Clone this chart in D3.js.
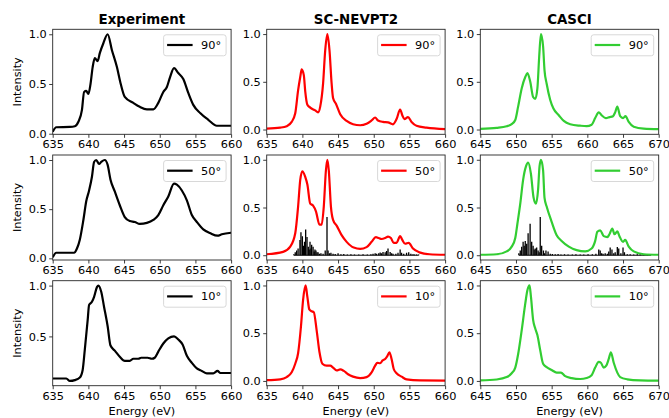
<!DOCTYPE html>
<html><head><meta charset="utf-8">
<script src="https://cdn.jsdelivr.net/npm/d3@7"></script>
<style>body{margin:0;background:#fff} text{font-family:"DejaVu Sans",sans-serif}</style>
</head><body><svg id="c" width="669" height="418"></svg>
<script>
// ---------- data ----------
const methods = ["Experiment", "SC-NEVPT2", "CASCI"];
const angles = ["90°", "50°", "10°"];
const xTicksLow = [635, 640, 645, 650, 655, 660];
const xTicksHigh = [645, 650, 655, 660, 665, 670];
const yTickValues = [0, 0.5, 1.0];

const exp90 = [[635,0.02],[635.5,0.065],[637.4,0.068],[638.1,0.075],[638.6,0.12],[639.1,0.24],[639.4,0.42],[639.7,0.43],[640.0,0.40],[640.3,0.5],[640.6,0.67],[640.9,0.76],[641.3,0.73],[641.6,0.81],[642.1,0.91],[642.7,1.0],[643.3,0.84],[644.0,0.67],[644.5,0.51],[645.1,0.37],[646.3,0.31],[647.2,0.27],[648.2,0.245],[649.1,0.245],[649.8,0.31],[650.5,0.42],[651.0,0.47],[651.45,0.57],[652.0,0.66],[652.6,0.61],[653.3,0.55],[654.0,0.41],[654.7,0.29],[655.7,0.205],[656.8,0.14],[658.0,0.08],[660,0.08]];
const exp50 = [[635,0.01],[635.5,0.057],[638.0,0.057],[638.4,0.10],[638.8,0.19],[639.3,0.39],[639.7,0.58],[640.1,0.69],[640.5,0.83],[640.8,0.98],[641.1,1.0],[641.5,0.96],[641.8,0.98],[642.3,1.0],[642.7,0.95],[643.1,0.80],[643.7,0.68],[644.4,0.54],[645.1,0.42],[645.8,0.38],[646.5,0.37],[647.2,0.35],[648.2,0.36],[649.1,0.39],[649.8,0.44],[650.5,0.54],[651.2,0.63],[652.0,0.76],[652.4,0.75],[653.1,0.69],[653.8,0.59],[654.5,0.44],[655.2,0.37],[656.1,0.295],[657.1,0.255],[658.1,0.23],[658.7,0.245],[660,0.26]];
const exp10 = [[635,0.086],[636.9,0.086],[637.4,0.062],[638.1,0.07],[638.8,0.095],[639.2,0.17],[639.5,0.37],[639.9,0.66],[640.1,0.81],[640.5,0.84],[640.8,0.89],[641.2,0.985],[641.4,1.0],[641.8,0.94],[642.2,0.79],[642.7,0.60],[643.1,0.41],[643.7,0.36],[644.4,0.30],[645.1,0.26],[645.8,0.26],[646.3,0.28],[647.0,0.28],[647.4,0.29],[648.3,0.29],[648.9,0.28],[649.3,0.29],[649.8,0.35],[650.5,0.43],[651.2,0.48],[652.0,0.50],[652.6,0.47],[653.2,0.42],[653.8,0.31],[654.5,0.24],[655.2,0.185],[655.9,0.16],[656.6,0.137],[657.5,0.137],[658.1,0.16],[658.5,0.14],[660,0.14]];

const nevpt90 = [[635,0.01],[636.9,0.02],[637.8,0.035],[638.5,0.08],[639.0,0.17],[639.4,0.41],[639.7,0.55],[639.9,0.63],[640.2,0.57],[640.4,0.40],[640.7,0.26],[641.1,0.23],[641.8,0.20],[642.2,0.18],[642.5,0.24],[642.9,0.48],[643.2,0.83],[643.5,1.0],[643.8,0.83],[644.1,0.48],[644.3,0.33],[644.7,0.27],[645.3,0.16],[646.2,0.09],[647.1,0.056],[648.1,0.045],[649.0,0.06],[649.7,0.095],[650.2,0.126],[650.6,0.095],[651.3,0.08],[652.0,0.075],[652.7,0.055],[653.2,0.11],[653.7,0.21],[654.0,0.15],[654.3,0.11],[654.8,0.13],[655.3,0.08],[656.0,0.04],[657.4,0.02],[660,0.005]];
const nevpt50 = [[635,0.01],[637.3,0.035],[638.3,0.09],[639.0,0.23],[639.4,0.51],[639.7,0.79],[640.0,0.88],[640.4,0.82],[640.7,0.74],[641.1,0.54],[641.5,0.52],[641.9,0.46],[642.4,0.32],[642.7,0.32],[643.0,0.51],[643.3,0.89],[643.5,1.0],[643.7,0.89],[644.0,0.51],[644.3,0.37],[644.8,0.31],[645.5,0.21],[646.2,0.14],[647.2,0.08],[648.1,0.067],[649.0,0.085],[649.7,0.14],[650.3,0.19],[650.7,0.18],[651.1,0.17],[651.6,0.18],[652.0,0.195],[652.4,0.18],[652.8,0.13],[653.2,0.13],[653.7,0.20],[654.0,0.16],[654.4,0.12],[654.9,0.13],[655.5,0.07],[656.4,0.03],[657.8,0.01],[660,0.005]];
const nevpt10 = [[635,0.008],[636.9,0.017],[637.8,0.04],[638.5,0.09],[639.0,0.18],[639.4,0.29],[639.8,0.57],[640.1,0.85],[640.45,1.0],[640.7,0.88],[640.97,0.75],[641.3,0.73],[641.6,0.72],[642.0,0.53],[642.4,0.30],[642.8,0.18],[643.4,0.16],[643.9,0.16],[644.3,0.14],[644.8,0.11],[645.3,0.12],[645.8,0.105],[646.4,0.07],[647.1,0.045],[648.1,0.03],[649.0,0.04],[649.7,0.09],[650.2,0.16],[650.5,0.19],[650.9,0.185],[651.25,0.215],[651.6,0.23],[651.9,0.26],[652.2,0.30],[652.5,0.23],[652.8,0.125],[653.2,0.08],[653.9,0.045],[654.6,0.017],[656.5,0.005],[660,0.003]];
const nevpt50Sticks = [[638.8,0.01],[639.0,0.03],[639.2,0.05],[639.4,0.07],[639.66,0.16],[639.8,0.24],[640.0,0.20],[640.15,0.10],[640.3,0.14],[640.46,0.27],[640.65,0.19],[640.83,0.09],[640.95,0.06],[641.07,0.14],[641.2,0.07],[641.3,0.11],[641.5,0.09],[641.65,0.04],[641.76,0.06],[641.9,0.05],[642.05,0.03],[642.2,0.03],[642.4,0.015],[642.6,0.02],[642.9,0.015],[643.2,0.05],[643.45,0.40],[643.6,0.05],[643.8,0.02],[644.0,0.025],[644.3,0.015],[644.6,0.012],[645.0,0.02],[645.4,0.01],[645.8,0.012],[646.3,0.008],[646.8,0.01],[647.3,0.008],[647.9,0.008],[648.5,0.01],[649.1,0.008],[649.6,0.01],[649.9,0.015],[650.2,0.02],[650.4,0.015],[650.7,0.02],[650.9,0.028],[651.1,0.02],[651.3,0.035],[651.6,0.03],[651.8,0.045],[652.0,0.07],[652.3,0.035],[652.5,0.02],[652.7,0.016],[653.1,0.015],[653.4,0.025],[653.7,0.06],[653.9,0.025],[654.2,0.015],[654.6,0.025],[654.9,0.03],[655.2,0.015],[655.5,0.01],[655.7,0.008],[656.0,0.008],[656.3,0.008]];

const casci90 = [[645,0.006],[647.3,0.017],[648.7,0.035],[649.4,0.056],[649.9,0.10],[650.3,0.24],[650.8,0.43],[651.3,0.55],[651.6,0.59],[652.0,0.50],[652.4,0.34],[652.7,0.32],[653.0,0.43],[653.25,0.76],[653.5,1.0],[653.8,0.87],[654.0,0.62],[654.3,0.48],[654.8,0.31],[655.25,0.22],[656.0,0.15],[656.7,0.09],[657.6,0.056],[659.0,0.04],[659.9,0.035],[660.6,0.05],[661.1,0.12],[661.6,0.18],[662.0,0.15],[662.6,0.12],[663.1,0.13],[663.6,0.14],[663.9,0.18],[664.2,0.24],[664.6,0.14],[665.0,0.12],[665.35,0.14],[665.8,0.08],[666.5,0.03],[667.9,0.01],[670,0.005]];
const casci50 = [[645,0.005],[647.3,0.01],[648.7,0.04],[649.4,0.09],[649.9,0.18],[650.2,0.33],[650.6,0.54],[651.0,0.79],[651.4,0.93],[651.7,0.97],[652.1,0.85],[652.45,0.61],[652.8,0.54],[653.1,0.69],[653.3,0.93],[653.5,1.0],[653.8,0.89],[654.0,0.60],[654.3,0.51],[655.0,0.35],[655.7,0.21],[656.4,0.15],[657.4,0.09],[658.5,0.053],[659.7,0.04],[660.6,0.07],[661.1,0.15],[661.4,0.245],[661.8,0.26],[662.3,0.20],[662.8,0.19],[663.1,0.22],[663.5,0.28],[663.8,0.22],[664.2,0.25],[664.5,0.20],[665.0,0.14],[665.3,0.16],[665.8,0.09],[666.5,0.04],[667.9,0.01],[670,0.005]];
const casci10 = [[645,0.005],[647.3,0.015],[648.7,0.04],[649.4,0.08],[649.9,0.14],[650.3,0.28],[650.8,0.53],[651.3,0.81],[651.6,0.95],[651.9,1.0],[652.1,0.88],[652.4,0.64],[652.7,0.55],[653.0,0.48],[653.4,0.32],[653.8,0.18],[654.3,0.145],[655.0,0.115],[655.7,0.087],[656.3,0.087],[656.9,0.05],[657.8,0.03],[659.0,0.02],[659.9,0.03],[660.6,0.06],[661.1,0.14],[661.6,0.20],[661.9,0.19],[662.3,0.14],[662.65,0.16],[663.0,0.23],[663.3,0.30],[663.7,0.19],[664.2,0.087],[664.6,0.04],[665.6,0.017],[667.4,0.006],[670,0.003]];
const casci50Sticks = [[650.4,0.02],[650.6,0.05],[650.8,0.09],[651.0,0.14],[651.15,0.10],[651.3,0.15],[651.5,0.12],[651.7,0.23],[651.98,0.33],[652.2,0.14],[652.4,0.10],[652.55,0.06],[652.7,0.07],[652.9,0.08],[653.1,0.05],[653.25,0.03],[653.4,0.40],[653.6,0.10],[653.85,0.05],[654.0,0.02],[654.2,0.05],[654.5,0.04],[654.8,0.015],[655.1,0.012],[655.5,0.01],[655.9,0.012],[656.3,0.008],[656.8,0.01],[657.3,0.008],[657.9,0.008],[658.4,0.01],[659.0,0.008],[659.5,0.008],[660.1,0.01],[660.7,0.01],[661.2,0.015],[661.6,0.06],[661.8,0.05],[662.0,0.02],[662.2,0.015],[662.5,0.02],[662.8,0.015],[663.0,0.04],[663.2,0.08],[663.45,0.06],[663.7,0.02],[663.9,0.03],[664.2,0.085],[664.4,0.07],[664.7,0.02],[665.0,0.08],[665.2,0.03],[665.6,0.01],[666.0,0.01],[666.5,0.008],[667.0,0.01],[667.4,0.01],[667.9,0.008],[668.4,0.008],[668.9,0.008]];

// ---------- layout ----------
const svg = d3.select("#c");
const colLeft = [52.7, 266.7, 480.3], W = 178.4;
const rowTop = [29.3, 155, 280.7], H = 105;
const colors = ["#000000", "#ff0000", "#32cd32"];
const curves = [[exp90, nevpt90, casci90], [exp50, nevpt50, casci50], [exp10, nevpt10, casci10]];
const sticks = [[null, null, null], [null, nevpt50Sticks, casci50Sticks], [null, null, null]];
const yDomains = [
  [[-0.006, 1.05], [-0.05, 1.05], [-0.05, 1.05]],
  [[-0.017, 1.051], [-0.05, 1.05], [-0.05, 1.05]],
  [[0.015, 1.048], [-0.05, 1.05], [-0.05, 1.05]]
];
const axisColor = "#262626";

for (let r = 0; r < 3; r++) {
  for (let c = 0; c < 3; c++) {
    const L = colLeft[c], T = rowTop[r];
    const xt = c === 2 ? xTicksHigh : xTicksLow;
    const x = d3.scaleLinear().domain([xt[0], xt[xt.length - 1]]).range([L, L + W]);
    const y = d3.scaleLinear().domain(yDomains[r][c]).range([T + H, T]);
    const g = svg.append("g");
    const clipId = "clip" + r + c;
    g.append("clipPath").attr("id", clipId).append("rect")
      .attr("x", L).attr("y", T).attr("width", W).attr("height", H);
    const plot = g.append("g").attr("clip-path", `url(#${clipId})`);

    // sticks
    if (sticks[r][c]) {
      plot.selectAll("line.stick").data(sticks[r][c]).enter().append("line")
        .attr("x1", d => x(d[0])).attr("x2", d => x(d[0]))
        .attr("y1", y(0)).attr("y2", d => y(d[1]))
        .attr("stroke", "#000").attr("stroke-width", 1.3);
      plot.append("line")
        .attr("x1", x(sticks[r][c][0][0])).attr("x2", x(sticks[r][c][sticks[r][c].length - 1][0]))
        .attr("y1", y(0)).attr("y2", y(0)).attr("stroke", "#000").attr("stroke-width", 1);
    }
    // curve
    const line = d3.line().x(d => x(d[0])).y(d => y(d[1])).curve(d3.curveMonotoneX);
    plot.append("path").datum(curves[r][c]).attr("d", line)
      .attr("fill", "none").attr("stroke", colors[c]).attr("stroke-width", 2.2)
      .attr("stroke-linejoin", "round");

    // axes
    const xAxis = d3.axisBottom(x).tickValues(xt).tickFormat(d3.format("d")).tickSize(3.5).tickPadding(2.5);
    const ax = g.append("g").attr("transform", `translate(0,${T + H})`).call(xAxis);
    const yt = yTickValues.filter(v => v >= yDomains[r][c][0] && v <= yDomains[r][c][1]);
    const yAxis = d3.axisLeft(y).tickValues(yt).tickFormat(d3.format(".1f")).tickSize(3.5).tickPadding(2.5);
    const ay = g.append("g").attr("transform", `translate(${L},0)`).call(yAxis);
    [ax, ay].forEach(a => {
      a.select(".domain").remove();
      a.selectAll("line").attr("stroke", axisColor).attr("stroke-width", 0.9);
      a.selectAll("text").attr("font-size", 11.3).attr("fill", "#000").attr("font-family", "DejaVu Sans");
    });
    // frame
    g.append("rect").attr("x", L).attr("y", T).attr("width", W).attr("height", H)
      .attr("fill", "none").attr("stroke", axisColor).attr("stroke-width", 0.9);

    // legend
    const lw = 62.5, lh = 21;
    const lg = g.append("g").attr("transform", `translate(${L + W - 5 - lw},${T + 5.5})`);
    lg.append("rect").attr("width", lw).attr("height", lh).attr("rx", 2.5)
      .attr("fill", "#fff").attr("fill-opacity", 0.8).attr("stroke", "#d4d4d4").attr("stroke-width", 0.9);
    lg.append("line").attr("x1", 3.5).attr("x2", 29).attr("y1", 10.2).attr("y2", 10.2)
      .attr("stroke", colors[c]).attr("stroke-width", 2.2);
    lg.append("text").attr("x", 37.5).attr("y", 14.3).attr("font-size", 11.3).text(angles[r]);

    if (r === 0) {
      svg.append("text").attr("x", L + W / 2).attr("y", 24).attr("text-anchor", "middle")
        .attr("font-size", 13.4).attr("font-weight", "bold").text(methods[c]);
    }
    if (c === 0) {
      svg.append("text").attr("transform", `translate(21.3,${T + H / 2}) rotate(-90)`)
        .attr("text-anchor", "middle").attr("font-size", 11.3).text("Intensity");
    }
    if (r === 2) {
      svg.append("text").attr("x", L + W / 2).attr("y", 414.5).attr("text-anchor", "middle")
        .attr("font-size", 11.3).text("Energy (eV)");
    }
  }
}
</script></body></html>
